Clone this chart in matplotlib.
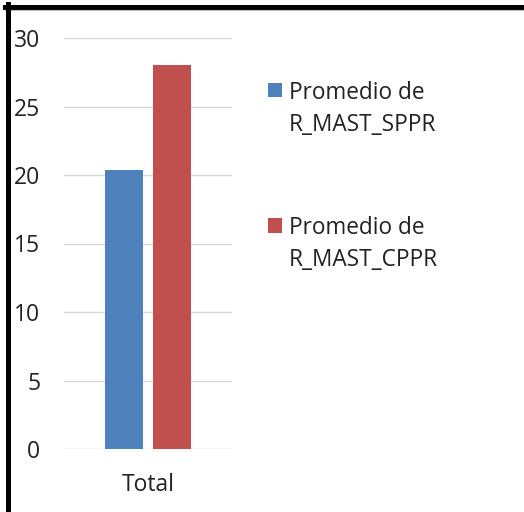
import matplotlib.pyplot as plt
from matplotlib.lines import Line2D
from matplotlib.patches import Rectangle
from matplotlib.legend_handler import HandlerPatch

plt.rcParams['font.family'] = ['Open Sans', 'DejaVu Sans']

categoria = ["Total"]
series = ["Promedio de\nR_MAST_SPPR", "Promedio de\nR_MAST_CPPR"]
valores = [20.4, 28.0]
colores = ["#4F81BD", "#C0504D"]
yticks = [0, 5, 10, 15, 20, 25, 30]

fig = plt.figure(figsize=(5.24, 5.12), dpi=100)
ax = fig.add_axes([64/524, 1 - 449/512, 168/524, 411/512])

ancho = 0.452
hueco = 0.119
offs = [-(ancho + hueco) / 2, (ancho + hueco) / 2]
barras = []
for v, c, o, s in zip(valores, colores, offs, series):
    b = ax.bar(0 + o, v, width=ancho, color=c, label=s, zorder=3)
    barras.append(b)

ax.set_xlim(-1, 1)
ax.set_ylim(0, 30)
ax.set_yticks(yticks)
ax.set_xticks([0])
ax.set_xticklabels(categoria)
ax.tick_params(axis="y", length=0, pad=17, labelsize=16.5, labelcolor="#222222")
ax.tick_params(axis="x", length=0, pad=17, labelsize=16.5, labelcolor="#222222")
for sp in ax.spines.values():
    sp.set_visible(False)
ax.grid(axis="y", color="#d9d9d9", linewidth=1, zorder=0)


# cuadrado alineado con la primera linea del texto
def cuadro(legend, orig_handle, xdescent, ydescent, width, height, fontsize):
    return Rectangle((-xdescent, -ydescent + 14.5), width, height)


leg = fig.legend(handles=[b.patches[0] for b in barras], labels=series,
                 loc="upper left", bbox_to_anchor=(268/524, 1 - 81/512),
                 frameon=False, fontsize=16.3, labelspacing=3.5,
                 handlelength=0.62, handleheight=0.62, handletextpad=0.3,
                 borderpad=0, borderaxespad=0,
                 handler_map={Rectangle: HandlerPatch(patch_func=cuadro)})
for t in leg.get_texts():
    t.set_color("#222222")
    t.set_linespacing(1.45)

# marco
fig.add_artist(Line2D([5/524, 1], [1 - 6.5/512, 1 - 6.5/512], color="black", lw=3.6,
                      transform=fig.transFigure))
fig.add_artist(Line2D([5/524, 1], [1 - 9.5/512, 1 - 9.5/512], color="#bbbbbb", lw=0.8,
                      transform=fig.transFigure))
fig.add_artist(Line2D([8/524, 8/524], [0, 1 - 4/512], color="black", lw=3.6,
                      transform=fig.transFigure))

fig.savefig("out.png", dpi=100)
